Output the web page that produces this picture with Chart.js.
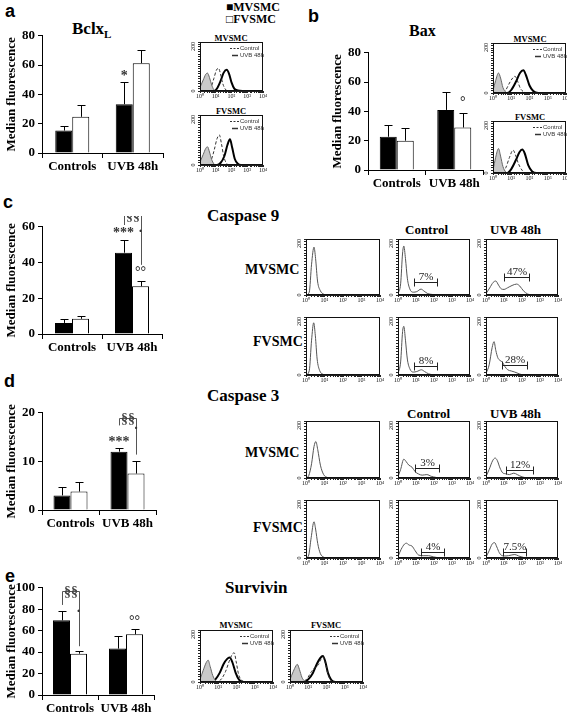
<!DOCTYPE html>
<html>
<head>
<meta charset="utf-8">
<script src="https://cdn.jsdelivr.net/npm/chart.js@4.4.1/dist/chart.umd.min.js"></script>
<style>
body { margin: 0; background: #fff; width: 567px; height: 714px; position: relative; overflow: hidden; font-family: "Liberation Serif", serif; }
.t { position: absolute; line-height: 1; white-space: nowrap; font-weight: bold; color: #000; }
.let { font-family: "Liberation Sans", Arial, sans-serif; font-size: 18px; }
.ttl { font-size: 17px; }
.hd { font-size: 13px; }
.row { font-size: 14px; }
.sm { font-size: 8.5px; transform: translateX(-50%); }
canvas { position: absolute; }
</style>
</head>
<body>
<div class="t let" style="left:5px;top:2px">a</div>
<div class="t let" style="left:308px;top:7px">b</div>
<div class="t let" style="left:3px;top:193px">c</div>
<div class="t let" style="left:4px;top:372px">d</div>
<div class="t let" style="left:5px;top:567px">e</div>

<div class="t ttl" style="left:72px;top:20px">Bclx<span style="font-size:11px;position:relative;top:4px">L</span></div>
<div class="t" style="left:409px;top:23px;font-size:16px">Bax</div>
<div class="t" style="left:226px;top:1px;font-size:12px">■MVSMC</div>
<div class="t" style="left:226px;top:13px;font-size:12px">□FVSMC</div>

<div class="t sm" style="left:231px;top:34px">MVSMC</div>
<div class="t sm" style="left:231px;top:107px">FVSMC</div>
<div class="t sm" style="left:530px;top:35px">MVSMC</div>
<div class="t sm" style="left:530px;top:113px">FVSMC</div>

<div class="t ttl" style="left:207px;top:207px">Caspase 9</div>
<div class="t hd" style="left:405px;top:223px">Control</div>
<div class="t hd" style="left:490px;top:223px">UVB 48h</div>
<div class="t row" style="left:245px;top:263px">MVSMC</div>
<div class="t row" style="left:253px;top:335px">FVSMC</div>

<div class="t ttl" style="left:207px;top:387px">Caspase 3</div>
<div class="t hd" style="left:407px;top:407px">Control</div>
<div class="t hd" style="left:490px;top:407px">UVB 48h</div>
<div class="t row" style="left:245px;top:446px">MVSMC</div>
<div class="t row" style="left:253px;top:521px">FVSMC</div>

<div class="t ttl" style="left:225px;top:579px">Survivin</div>
<div class="t sm" style="left:236px;top:621px">MVSMC</div>
<div class="t sm" style="left:326px;top:621px">FVSMC</div>

<script>
// bar chart data: [Controls, UVB 48h]
const groups = ['Controls', 'UVB 48h'];

const bclM = [15.3, 33.3];
const bclF = [24.7, 61.3];
const bclMErr = [18.2, 48.2];
const bclFErr = [32.7, 70.4];

const baxM = [22.7, 41];
const baxF = [20, 29];
const baxMErr = [31, 53];
const baxFErr = [29, 39];

const cas9M = [6.2, 45.5];
const cas9F = [8.5, 26.7];
const cas9MErr = [8.2, 52.5];
const cas9FErr = [10, 29.8];

const cas3M = [3, 12];
const cas3F = [3.8, 7.5];
const cas3MErr = [4.8, 12.7];
const cas3FErr = [5.8, 10];

const survM = [69.7, 43.3];
const survF = [38.5, 56.6];
const survMErr = [78.2, 55];
const survFErr = [40.9, 61.8];

// flow histograms: [fluorescence, count]
const decadeLabels = ['10⁰', '10¹', '10²', '10³', '10⁴'];

const bclIsoM = [[1,15],[1.6,45],[2.3,68],[3,73],[4,55],[5.5,25],[7.5,6],[10,0],[10000,0]];
const bclCtrlM = [[1,0],[3,0],[5,15],[7.5,50],[11,85],[15,93],[20,70],[28,30],[40,8],[60,0],[10000,0]];
const bclUvbM = [[1,0],[8,0],[12,10],[20,40],[32,75],[50,87],[70,70],[100,35],[150,10],[250,2],[500,0],[10000,0]];
const bclIsoF = [[1,12],[1.6,42],[2.3,66],[3,73],[4,52],[5.5,22],[7.5,5],[10,0],[10000,0]];
const bclCtrlF = [[1,0],[3,0],[5,18],[8,60],[12,105],[17,120],[23,85],[32,35],[45,10],[70,0],[10000,0]];
const bclUvbF = [[1,0],[12,0],[20,8],[35,35],[55,80],[80,103],[110,70],[160,25],[250,5],[400,0],[10000,0]];

const baxIsoM = [[1,10],[1.4,50],[2,80],[2.6,60],[3.5,22],[5,4],[7,0],[10000,0]];
const baxCtrlM = [[1,0],[3,0],[5,12],[8,40],[12,60],[16,67],[22,48],[32,18],[50,4],[80,0],[10000,0]];
const baxUvbM = [[1,0],[6,0],[10,12],[18,45],[30,80],[46,91],[65,70],[100,30],[160,8],[300,0],[10000,0]];
const baxIsoF = [[1,10],[1.4,60],[2,94],[2.6,65],[3.5,25],[5,4],[7,0],[10000,0]];
const baxCtrlF = [[1,0],[3,0],[5,20],[8,60],[12.6,88],[17,70],[25,35],[40,10],[60,0],[10000,0]];
const baxUvbF = [[1,0],[6,0],[10,15],[18,50],[28,80],[40,90],[55,75],[85,30],[140,6],[250,0],[10000,0]];

const survIsoM = [[1,10],[1.5,45],[2.2,75],[2.8,84],[3.6,60],[5,25],[7,6],[10,0],[10000,0]];
const survCtrlM = [[1,0],[8,0],[15,12],[25,40],[40,80],[60,108],[75,112],[95,80],[130,30],[200,5],[400,0],[10000,0]];
const survUvbM = [[1,0],[4,0],[7,10],[12,35],[20,70],[30,88],[42,94],[60,75],[90,35],[140,8],[250,0],[10000,0]];
const survIsoF = [[1,10],[1.5,40],[2.1,62],[2.5,68],[3.3,48],[4.5,18],[6.5,3],[9,0],[10000,0]];
const survCtrlF = [[1,0],[5,0],[9,15],[15,40],[25,58],[35,65],[50,88],[65,97],[85,75],[120,30],[180,6],[300,0],[10000,0]];
const survUvbF = [[1,0],[6,0],[10,10],[18,35],[30,70],[45,92],[63,100],[85,80],[120,35],[180,8],[300,0],[10000,0]];

// caspase histograms: [unstained, Control, UVB 48h]
const cas9HistM = [
  [[1,0],[1.5,10],[2,110],[2.7,171],[3.3,130],[4.2,50],[6,15],[9,3],[12,0],[10000,0]],
  [[1,5],[1.4,40],[1.8,150],[2.1,175],[2.6,130],[3.3,60],[4.5,22],[7,10],[11,12],[19,21],[28,14],[45,5],[80,2],[150,0],[10000,0]],
  [[1,5],[1.6,25],[2.5,45],[3.5,50],[5,35],[7,22],[10,20],[16,26],[28,34],[50,39],[75,32],[120,15],[200,4],[350,0],[10000,0]]
];
const cas9HistF = [
  [[1,0],[1.5,15],[2,120],[2.6,180],[3.2,135],[4,55],[5.5,15],[8,3],[12,0],[10000,0]],
  [[1,5],[1.4,45],[1.8,150],[2.1,168],[2.6,120],[3.3,55],[4.5,22],[7,10],[11,12],[20,18],[30,12],[50,4],[90,1],[150,0],[10000,0]],
  [[1,5],[1.5,35],[2.2,95],[2.8,115],[3.5,85],[4.5,60],[6,50],[8,45],[11,30],[16,18],[25,14],[40,10],[70,4],[130,0],[10000,0]]
];
const cas3HistM = [
  [[1,0],[1.4,8],[2,50],[2.7,110],[3.4,128],[4.3,100],[6,45],[9,12],[14,2],[20,0],[10000,0]],
  [[1,5],[1.4,30],[2.1,66],[2.8,58],[4,45],[6,38],[9,22],[14,14],[22,10],[40,12],[70,6],[130,2],[250,0],[10000,0]],
  [[1,5],[1.5,30],[2.3,60],[3.2,70],[4.2,62],[6,35],[8.5,18],[12,15],[20,12],[35,17],[55,12],[100,4],[250,0],[10000,0]]
];
const cas3HistF = [
  [[1,0],[1.4,10],[1.9,70],[2.7,125],[3.3,100],[4.3,50],[6,15],[9,3],[13,0],[10000,0]],
  [[1,5],[1.5,30],[2.3,48],[3,51],[4,45],[6,41],[9,25],[14,10],[25,8],[50,8],[90,4],[170,1],[300,0],[10000,0]],
  [[1,3],[1.5,25],[2.2,48],[3,53],[4,38],[5.5,18],[8,8],[13,7],[25,10],[40,12],[65,7],[120,2],[200,0],[10000,0]]
];
// gates: [from, to, count, label]
const cas9GatesM = [null, [8, 150, 47, '7%'], [10, 230, 64, '47%']];
const cas9GatesF = [null, [8, 150, 31, '8%'], [8, 186, 34, '28%']];
const cas3GatesM = [null, [9, 200, 35, '3%'], [12.6, 400, 29, '12%']];
const cas3GatesF = [null, [20, 370, 22, '4%'], [8.3, 166, 22, '7.5%']];

const SERIF = '"Liberation Serif", "Times New Roman", serif';
Chart.defaults.font.family = SERIF;
Chart.defaults.color = '#000';
Chart.defaults.animation = false;

function mk(x, y, w, h) {
  const c = document.createElement('canvas');
  c.width = w; c.height = h;
  c.style.left = x + 'px'; c.style.top = y + 'px';
  c.style.width = w + 'px'; c.style.height = h + 'px';
  document.body.appendChild(c);
  return c;
}

const barExtras = {
  id: 'barExtras',
  afterDatasetsDraw(chart, args, cfg) {
    const ctx = chart.ctx, ys = chart.scales.y;
    ctx.save();
    ctx.strokeStyle = '#000';
    ctx.lineWidth = 1;
    cfg.err.forEach((arr, d) => {
      chart.getDatasetMeta(d).data.forEach((bar, i) => {
        const x = Math.round(bar.x) + 0.5, yt = Math.round(ys.getPixelForValue(arr[i])) + 0.5;
        ctx.beginPath();
        ctx.moveTo(x, bar.y); ctx.lineTo(x, yt);
        ctx.moveTo(x - 4, yt); ctx.lineTo(x + 4, yt);
        ctx.stroke();
      });
    });
    ctx.strokeStyle = '#555';
    (cfg.brackets || []).forEach(b => {
      const xl = Math.round(chart.getDatasetMeta(0).data[b[0]].x) + 0.5;
      const xr = Math.round(chart.getDatasetMeta(1).data[b[0]].x) + 0.5;
      const yt = Math.round(ys.getPixelForValue(b[2])) + 0.5;
      ctx.beginPath();
      ctx.moveTo(xl, ys.getPixelForValue(b[1])); ctx.lineTo(xl, yt);
      ctx.lineTo(xr, yt); ctx.lineTo(xr, ys.getPixelForValue(b[3]));
      ctx.stroke();
      ctx.fillStyle = '#444';
      ctx.font = 'bold 14px ' + SERIF;
      ctx.textAlign = 'center'; ctx.textBaseline = 'middle';
      ctx.fillText('§§', (xl + xr) / 2, yt + 1);
    });
    ctx.fillStyle = '#333';
    ctx.textAlign = 'center'; ctx.textBaseline = 'middle';
    ctx.font = 'bold 14px ' + SERIF;
    (cfg.marks || []).forEach(m => {
      const bar = chart.getDatasetMeta(m[0]).data[m[1]];
      ctx.fillText(m[3], bar.x, ys.getPixelForValue(m[2]));
    });
    ctx.restore();
  }
};

function barChart(o) {
  const top = o.plotTop - 8, h = o.plotBottom + 26 - top, w = o.plotW + 42 + 4;
  const cv = mk(o.left, top, w, h);
  return new Chart(cv, {
    type: 'bar',
    data: {
      labels: groups,
      datasets: [
        { label: 'MVSMC', data: o.m, backgroundColor: '#000', borderColor: '#000', borderWidth: 1 },
        { label: 'FVSMC', data: o.f, backgroundColor: '#fff', borderColor: '#000', borderWidth: 1 }
      ]
    },
    options: {
      responsive: false,
      animation: false,
      layout: { padding: { top: 8, right: 4, left: 0, bottom: 0 } },
      datasets: { bar: { categoryPercentage: 34 / (o.plotW / 2), barPercentage: 1 } },
      plugins: {
        legend: { display: false },
        tooltip: { enabled: false },
        barExtras: { err: [o.me, o.fe], marks: o.marks, brackets: o.brackets }
      },
      scales: {
        x: {
          grid: { drawOnChartArea: false, tickLength: 5, color: '#000' },
          border: { color: '#000' },
          ticks: { font: { family: SERIF, size: 13, weight: 'bold' }, padding: 1, autoSkip: false, maxRotation: 0, minRotation: 0 },
          afterFit(s) { s.height = 26; }
        },
        y: {
          min: 0, max: o.max,
          ticks: { stepSize: o.step, font: { family: SERIF, size: 13, weight: 'bold' }, padding: 3 },
          grid: { drawOnChartArea: false, tickLength: 4, color: '#000' },
          border: { color: '#000' },
          title: { display: true, text: 'Median fluorescence', font: { family: SERIF, size: 13, weight: 'bold' }, padding: { top: 4, bottom: 0 } },
          afterFit(s) { s.width = 42; }
        }
      }
    },
    plugins: [barExtras]
  });
}

const histExtras = {
  id: 'histExtras',
  afterDraw(chart, args, cfg) {
    const { ctx, chartArea: a, scales: { x, y } } = chart;
    ctx.save();
    ctx.strokeStyle = '#111';
    ctx.lineWidth = 1;
    ctx.strokeRect(a.left + 0.5, a.top + 0.5, a.right - a.left - 1, a.bottom - a.top - 1);
    ctx.fillStyle = '#111';
    ctx.font = '6px ' + SERIF;
    ctx.textBaseline = 'middle';
    [[200, 'right'], [0, 'center']].forEach(([v, al]) => {
      ctx.save();
      ctx.translate(a.left - 7, y.getPixelForValue(v));
      ctx.rotate(-Math.PI / 2);
      ctx.textAlign = al;
      ctx.fillText(String(v), 0, 0);
      ctx.restore();
    });
    if (cfg.legend) {
      const r = a.right;
      ctx.font = '6px "Liberation Sans", sans-serif';
      ctx.textAlign = 'left';
      ctx.strokeStyle = '#333';
      ctx.setLineDash([2, 1.5]);
      ctx.beginPath(); ctx.moveTo(r - 33, a.top + 6.5); ctx.lineTo(r - 24, a.top + 6.5); ctx.stroke();
      ctx.setLineDash([]);
      ctx.lineWidth = 1.5;
      ctx.beginPath(); ctx.moveTo(r - 31, a.top + 13.5); ctx.lineTo(r - 25, a.top + 13.5); ctx.stroke();
      ctx.fillStyle = '#333';
      ctx.fillText('Control', r - 23, a.top + 6.5);
      ctx.fillText('UVB 48h', r - 23, a.top + 13.5);
    }
    if (cfg.gate) {
      const g = cfg.gate;
      const x1 = Math.round(x.getPixelForValue(g[0])) + 0.5, x2 = Math.round(x.getPixelForValue(g[1])) + 0.5;
      const yy = Math.round(y.getPixelForValue(g[2])) + 0.5;
      ctx.strokeStyle = '#222';
      ctx.lineWidth = 1;
      ctx.beginPath();
      ctx.moveTo(x1, yy - 4); ctx.lineTo(x1, yy + 4);
      ctx.moveTo(x1, yy); ctx.lineTo(x2, yy);
      ctx.moveTo(x2, yy - 4); ctx.lineTo(x2, yy + 4);
      ctx.stroke();
      ctx.fillStyle = '#222';
      ctx.font = '11px ' + SERIF;
      ctx.textAlign = 'center';
      ctx.textBaseline = 'alphabetic';
      ctx.fillText(g[3], (x1 + x2) / 2, yy - 3);
    }
    ctx.restore();
  }
};

function pts(arr) { return arr.map(p => ({ x: p[0], y: p[1] })); }

function isoSet(d) { return { data: pts(d), borderColor: '#666', borderWidth: 1, backgroundColor: '#c9c9c9', fill: 'origin' }; }
function ctrlSet(d) { return { data: pts(d), borderColor: '#333', borderWidth: 1, borderDash: [3, 2], fill: false }; }
function uvbSet(d) { return { data: pts(d), borderColor: '#000', borderWidth: 2, fill: false }; }
function casSet(d) { return { data: pts(d), borderColor: '#555', borderWidth: 1, fill: false }; }

function histChart(x1, y1, x2, y2, datasets, extras) {
  const w = x2 - x1 + 12 + 7, h = y2 - y1 + 4 + 11;
  const cv = mk(x1 - 12, y1 - 4, w, h);
  return new Chart(cv, {
    type: 'line',
    data: { datasets: datasets },
    options: {
      responsive: false,
      animation: false,
      layout: { padding: { top: 4, right: 7, left: 0, bottom: 0 } },
      elements: { point: { radius: 0 }, line: { cubicInterpolationMode: 'monotone' } },
      plugins: { legend: { display: false }, tooltip: { enabled: false }, histExtras: extras || {} },
      scales: {
        x: {
          type: 'logarithmic', min: 1, max: 10000,
          grid: { drawOnChartArea: false, tickLength: 2, color: '#222' },
          border: { color: '#222' },
          ticks: {
            autoSkip: false, maxRotation: 0, minRotation: 0, padding: 0,
            font: { family: SERIF, size: 6 }, color: '#111',
            callback: v => {
              const p = Math.log10(v);
              return Math.abs(p - Math.round(p)) < 1e-6 ? decadeLabels[Math.round(p)] : '';
            }
          },
          afterFit(s) { s.height = 11; }
        },
        y: {
          min: 0, max: 200,
          ticks: { stepSize: 10, display: false },
          grid: { drawOnChartArea: false, tickLength: 2, color: '#222' },
          border: { color: '#222' },
          afterFit(s) { s.width = 12; }
        }
      }
    },
    plugins: [histExtras]
  });
}

function drawAll() {
  // bar charts
  barChart({ left: 0, plotTop: 33, plotBottom: 153, plotW: 121, max: 80, step: 20,
    m: bclM, f: bclF, me: bclMErr, fe: bclFErr, marks: [[0, 1, 52.5, '*']] });
  barChart({ left: 326, plotTop: 50, plotBottom: 170, plotW: 115, max: 80, step: 20,
    m: baxM, f: baxF, me: baxMErr, fe: baxFErr, marks: [[1, 1, 46, '°']] });
  barChart({ left: 0, plotTop: 224, plotBottom: 334, plotW: 120, max: 60, step: 20,
    m: cas9M, f: cas9F, me: cas9MErr, fe: cas9FErr,
    marks: [[0, 1, 56.5, '***'], [1, 1, 34.5, '°°'], [1, 1, 57, '·']],
    brackets: [[1, 61, 66.5, 38.7]] });
  barChart({ left: 0, plotTop: 410, plotBottom: 510, plotW: 114, max: 20, step: 10,
    m: cas3M, f: cas3F, me: cas3MErr, fe: cas3FErr,
    marks: [[0, 1, 14, '***'], [1, 1, 16.6, '·']],
    brackets: [[1, 17.4, 19, 11.4]] });
  barChart({ left: 0, plotTop: 585, plotBottom: 695, plotW: 112, max: 100, step: 20,
    m: survM, f: survF, me: survMErr, fe: survFErr,
    marks: [[1, 1, 69, '°°'], [1, 0, 77, '·']],
    brackets: [[0, 84, 97, 45.5]] });

  // Bcl-xL, Bax and survivin overlays
  histChart(200, 42, 263, 91, [isoSet(bclIsoM), ctrlSet(bclCtrlM), uvbSet(bclUvbM)], { legend: true });
  histChart(200, 115, 263, 165, [isoSet(bclIsoF), ctrlSet(bclCtrlF), uvbSet(bclUvbF)], { legend: true });
  histChart(493, 43, 566, 93, [isoSet(baxIsoM), ctrlSet(baxCtrlM), uvbSet(baxUvbM)], { legend: true });
  histChart(493, 121, 566, 173, [isoSet(baxIsoF), ctrlSet(baxCtrlF), uvbSet(baxUvbF)], { legend: true });
  histChart(200, 630, 273, 682, [isoSet(survIsoM), ctrlSet(survCtrlM), uvbSet(survUvbM)], { legend: true });
  histChart(290, 630, 363, 682, [isoSet(survIsoF), ctrlSet(survCtrlF), uvbSet(survUvbF)], { legend: true });

  // caspase grids
  const colX = [[306, 380], [398, 470], [486, 558]];
  [[cas9HistM, cas9GatesM, 239, 295], [cas9HistF, cas9GatesF, 317, 375],
   [cas3HistM, cas3GatesM, 421, 478], [cas3HistF, cas3GatesF, 500, 558]].forEach(([hists, gates, yt, yb]) => {
    hists.forEach((d, i) => {
      histChart(colX[i][0], yt, colX[i][1], yb, [casSet(d)], { gate: gates[i] });
    });
  });
}

Promise.all([
  document.fonts.load('bold 13px "Liberation Serif"'),
  document.fonts.load('11px "Liberation Serif"'),
  document.fonts.load('6px "Liberation Sans"')
]).then(drawAll, drawAll);
</script>
</body>
</html>
